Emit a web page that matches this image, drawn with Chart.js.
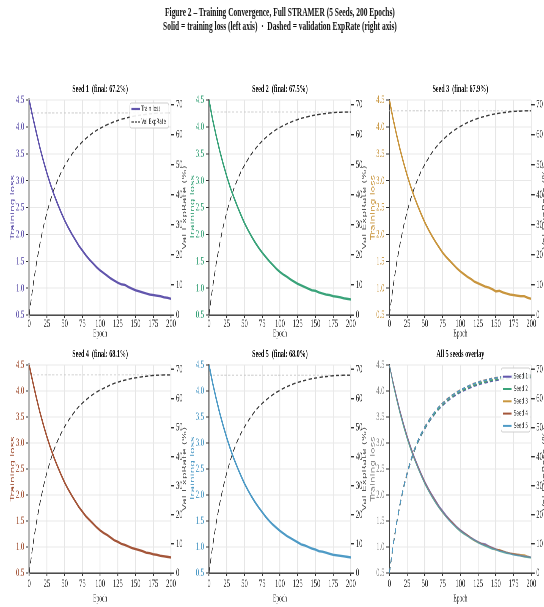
<!DOCTYPE html>
<html>
<head>
<meta charset="utf-8">
<script src="https://cdn.jsdelivr.net/npm/chart.js@4.4.1/dist/chart.umd.min.js"></script>
<style>
html,body{margin:0;padding:0;background:#fff;overflow:hidden;width:544px;height:607px;}
#wrap{position:absolute;left:0;top:0;width:990px;height:607px;transform:scaleX(0.55);transform-origin:0 0;}
.sup{position:absolute;left:0;width:1018px;top:5px;text-align:center;font-family:"Liberation Serif",serif;font-weight:bold;font-size:13.5px;line-height:14px;color:#111;}
canvas{position:absolute;}
</style>
</head>
<body>
<div id="wrap">
  <div class="sup">Figure 2 – Training Convergence, Full STRAMER (5 Seeds, 200 Epochs)<br>Solid = training loss (left axis) &nbsp;·&nbsp; Dashed = validation ExpRate (right axis)</div>
</div>
<script>
// ---------------- DATA ----------------
const epochs = [0,5,10,15,20,25,30,35,40,45,50,55,60,65,70,75,80,85,90,95,100,105,110,115,120,125,130,135,140,145,150,155,160,165,170,175,180,185,190,195,200];
const seedNames = ['Seed 1','Seed 2','Seed 3','Seed 4','Seed 5'];
const finalExpRate = [67.2, 67.5, 67.9, 68.1, 68.0];

const lossSeed1 = [4.50,4.19,3.90,3.62,3.37,3.14,2.93,2.74,2.57,2.41,2.26,2.13,2.01,1.90,1.79,1.70,1.61,1.53,1.46,1.39,1.33,1.28,1.23,1.18,1.14,1.10,1.07,1.06,1.02,0.99,0.96,0.94,0.92,0.90,0.88,0.87,0.86,0.85,0.83,0.82,0.80];
const lossSeed2 = [4.50,4.14,3.84,3.56,3.31,3.08,2.87,2.69,2.52,2.36,2.21,2.08,1.96,1.85,1.75,1.66,1.58,1.50,1.43,1.36,1.30,1.25,1.21,1.16,1.12,1.08,1.05,1.02,0.99,0.96,0.95,0.92,0.90,0.88,0.87,0.85,0.84,0.83,0.81,0.80,0.79];
const lossSeed3 = [4.50,4.16,3.86,3.58,3.33,3.10,2.89,2.70,2.53,2.37,2.22,2.09,1.97,1.86,1.76,1.66,1.58,1.51,1.44,1.37,1.31,1.26,1.21,1.17,1.12,1.09,1.06,1.03,1.01,0.98,0.94,0.95,0.92,0.90,0.88,0.87,0.86,0.85,0.85,0.82,0.80];
const lossSeed4 = [4.50,4.18,3.88,3.60,3.35,3.12,2.91,2.72,2.55,2.39,2.24,2.11,1.99,1.88,1.77,1.68,1.59,1.52,1.45,1.38,1.32,1.27,1.23,1.18,1.13,1.10,1.06,1.04,1.01,0.98,0.96,0.94,0.92,0.89,0.88,0.86,0.85,0.83,0.82,0.81,0.80];
const lossSeed5 = [4.50,4.16,3.86,3.58,3.33,3.10,2.89,2.70,2.53,2.37,2.22,2.09,1.97,1.86,1.76,1.67,1.58,1.50,1.43,1.37,1.31,1.26,1.21,1.17,1.13,1.09,1.05,1.03,1.00,0.97,0.95,0.92,0.91,0.89,0.87,0.85,0.84,0.83,0.82,0.81,0.80];

const valSeed1 = [0,9.0,16.8,23.5,29.3,34.0,38.2,41.8,44.8,47.4,49.6,51.6,53.4,55.0,56.4,57.6,58.7,59.7,60.6,61.4,62.1,62.7,63.3,63.8,64.3,64.7,65.1,65.4,65.7,66.0,66.2,66.4,66.6,66.7,66.9,67.0,67.1,67.1,67.2,67.2,67.2];
const valSeed2 = [0,9.1,16.9,23.6,29.4,34.2,38.4,42.0,45.0,47.6,49.8,51.8,53.6,55.2,56.6,57.9,59.0,60.0,60.9,61.7,62.4,63.0,63.6,64.1,64.6,65.0,65.4,65.7,66.0,66.3,66.5,66.7,66.9,67.0,67.2,67.3,67.4,67.4,67.5,67.5,67.5];
const valSeed3 = [0,9.1,17.0,23.7,29.6,34.4,38.6,42.2,45.3,47.9,50.1,52.1,54.0,55.6,57.0,58.2,59.3,60.3,61.2,62.0,62.7,63.4,64.0,64.5,65.0,65.4,65.8,66.1,66.4,66.7,66.9,67.1,67.3,67.4,67.6,67.7,67.8,67.8,67.9,67.9,67.9];
const valSeed4 = [0,9.1,17.0,23.8,29.7,34.5,38.7,42.4,45.4,48.0,50.3,52.3,54.1,55.7,57.2,58.4,59.5,60.5,61.4,62.2,62.9,63.5,64.1,64.7,65.2,65.6,66.0,66.3,66.6,66.9,67.1,67.3,67.5,67.6,67.8,67.9,68.0,68.0,68.1,68.1,68.1];
const valSeed5 = [0,9.1,17.0,23.8,29.6,34.4,38.7,42.3,45.4,48.0,50.2,52.2,54.0,55.7,57.1,58.3,59.4,60.4,61.3,62.1,62.8,63.5,64.1,64.6,65.1,65.5,65.9,66.2,66.5,66.8,67.0,67.2,67.4,67.5,67.7,67.8,67.9,67.9,68.0,68.0,68.0];

const seriesNames = ['Train loss', 'Val ExpRate'];
const axisTitles = {loss: 'Training loss', val: 'Val ExpRate (%)', x: 'Epoch'};
const overlayTitle = 'All 5 seeds overlay';

// ---------------- STYLE / LAYOUT ----------------
const lossAll = [lossSeed1, lossSeed2, lossSeed3, lossSeed4, lossSeed5];
const valAll = [valSeed1, valSeed2, valSeed3, valSeed4, valSeed5];
const colors = ['#6256ad', '#3aa37a', '#c9963f', '#a4563a', '#4f9bc6'];
const pts = arr => epochs.map((e, i) => ({x: e, y: arr[i]}));

const SERIF = '"Liberation Serif", "Times New Roman", serif';
const SANS = '"DejaVu Sans", sans-serif';

const colX = [0, 327.3, 654.5];
const LEFT_W = 53, PLOT_W = 258, RIGHT_W = 34, TITLE_H = 22;
const rowDims = [
  {top: 78, plotH: 215, xH: 27, tickPad: 0, epochPad: 3},
  {top: 343, plotH: 208, xH: 36, tickPad: 2, epochPad: 5}
];

const extrasPlugin = {
  id: 'extras',
  afterDraw(chart, args, opts) {
    const ctx = chart.ctx, ca = chart.chartArea;
    if (opts.rightTitle) {
      ctx.save();
      ctx.font = '10.5px ' + SANS;
      ctx.fillStyle = opts.rightTitleColor || '#444';
      ctx.translate(ca.right + 25, (ca.top + ca.bottom) / 2);
      ctx.rotate(-Math.PI / 2);
      ctx.textAlign = 'center';
      ctx.textBaseline = 'middle';
      ctx.fillText(opts.rightTitle, 0, 0);
      ctx.restore();
    }
    const L = opts.legend;
    if (L) {
      ctx.save();
      const bx = ca.right + L.boxLeft, by = ca.top + L.boxTop;
      const bw = L.boxRight - L.boxLeft, bh = L.boxBottom - L.boxTop;
      ctx.fillStyle = 'rgba(255,255,255,0.9)';
      ctx.strokeStyle = '#cfcfcf';
      ctx.lineWidth = 1;
      ctx.beginPath();
      ctx.roundRect(bx, by, bw, bh, 3);
      ctx.fill();
      ctx.stroke();
      L.items.forEach((it, i) => {
        const y = ca.top + L.firstRow + i * L.rowGap;
        ctx.strokeStyle = it.color;
        ctx.lineWidth = it.width;
        ctx.setLineDash(it.dash || []);
        ctx.beginPath();
        ctx.moveTo(ca.right + L.lineX0, y);
        ctx.lineTo(ca.right + L.lineX1, y);
        ctx.stroke();
        ctx.setLineDash([]);
        ctx.fillStyle = '#333';
        ctx.font = '7.5px ' + SANS;
        ctx.textBaseline = 'middle';
        ctx.textAlign = 'left';
        ctx.fillText(it.label, ca.right + L.textX, y);
      });
      ctx.restore();
    }
  }
};

function buildPanel(p) {
  const rd = rowDims[p.row];
  const overlay = !!p.overlay;
  const i = p.seed;
  const datasets = [];
  if (!overlay) {
    datasets.push({label: seriesNames[0], data: pts(lossAll[i]), yAxisID: 'y', borderColor: colors[i], borderWidth: 2.4, pointRadius: 0, tension: 0});
    datasets.push({label: seriesNames[1], data: pts(valAll[i]), yAxisID: 'y2', borderColor: '#3a3a3a', borderDash: [6, 4], borderWidth: 1.4, pointRadius: 0, tension: 0});
    datasets.push({label: 'final', data: [{x: epochs[0], y: finalExpRate[i]}, {x: epochs[epochs.length - 1], y: finalExpRate[i]}], yAxisID: 'y2', borderColor: '#c4c4c4', borderDash: [4, 3], borderWidth: 0.8, pointRadius: 0});
  } else {
    for (let k = 0; k < 5; k++) {
      datasets.push({label: seedNames[k], data: pts(lossAll[k]), yAxisID: 'y', borderColor: colors[k] + 'bb', borderWidth: 1.5, pointRadius: 0, order: 10 + (4 - k)});
    }
    for (let k = 0; k < 5; k++) {
      datasets.push({label: seedNames[k] + ' val', data: pts(valAll[k]), yAxisID: 'y2', borderColor: colors[k], borderDash: [6, 4], borderWidth: 1.7, pointRadius: 0, order: (4 - k)});
    }
  }
  const title = overlay ? overlayTitle : `${seedNames[i]}  (final: ${finalExpRate[i].toFixed(1)}%)`;
  const leftColor = overlay ? '#888' : colors[i];
  const spineColor = (!overlay && (i === 0 || i === 3)) ? '#b8b8b8' : '#444';
  const spineW = (!overlay && (i === 0 || i === 3)) ? 4 : 1.8;

  let legend = null;
  if (!overlay && i === 0) {
    legend = {boxLeft: -75, boxRight: -4, boxTop: 3, boxBottom: 28, firstRow: 9, rowGap: 13, lineX0: -72, lineX1: -57, textX: -54,
      items: [
        {label: seriesNames[0], color: colors[0], width: 2.2},
        {label: seriesNames[1], color: '#3a3a3a', width: 1.3, dash: [4, 2]}
      ]};
  } else if (overlay) {
    legend = {boxLeft: -55, boxRight: -2, boxTop: 3, boxBottom: 67, firstRow: 11.7, rowGap: 12.3, lineX0: -51, lineX1: -36, textX: -32,
      items: seedNames.map((n, k) => ({label: n, color: colors[k], width: 2}))};
  }

  const canvas = document.createElement('canvas');
  const W = LEFT_W + PLOT_W + RIGHT_W;
  const H = TITLE_H + rd.plotH + rd.xH;
  canvas.width = W; canvas.height = H;
  canvas.style.left = colX[p.col] + 'px';
  canvas.style.top = rd.top + 'px';
  canvas.style.width = W + 'px';
  canvas.style.height = H + 'px';
  document.getElementById('wrap').appendChild(canvas);

  new Chart(canvas, {
    type: 'line',
    data: {datasets},
    plugins: [extrasPlugin],
    options: {
      responsive: false,
      animation: false,
      devicePixelRatio: 2,
      layout: {padding: 0},
      plugins: {
        legend: {display: false},
        tooltip: {enabled: false},
        title: {display: true, text: title, fullSize: false, color: '#111',
          font: {family: SERIF, size: 11, weight: 'bold', lineHeight: '14px'}, padding: {top: 4, bottom: 4}},
        extras: {rightTitle: axisTitles.val, rightTitleColor: '#555', legend}
      },
      scales: {
        x: {
          type: 'linear', min: 0, max: 200,
          ticks: {stepSize: 25, color: '#333', padding: rd.tickPad, font: {family: SERIF, size: 12, lineHeight: 1}, maxRotation: 0},
          grid: {color: '#e6e6e6', lineWidth: 1.6, tickLength: 3, tickColor: '#333', tickWidth: 1.6},
          border: {color: '#333', width: 1.4},
          title: {display: true, text: axisTitles.x, color: '#333', font: {family: SERIF, size: 10, lineHeight: 1}, padding: {top: 0, bottom: rd.epochPad}},
          afterFit: s => { s.height = rd.xH; }
        },
        y: {
          position: 'left', min: 0.5, max: 4.5,
          ticks: {stepSize: 0.5, color: leftColor, padding: 3, font: {family: SERIF, size: 12}, callback: v => Number(v).toFixed(1)},
          grid: {color: '#e8e8e8', lineWidth: 1, tickLength: 6, tickColor: '#333'},
          border: {color: spineColor, width: spineW},
          title: {display: true, text: axisTitles.loss, color: leftColor, font: {family: SANS, size: 10.5}, padding: {top: 17, bottom: 0}},
          afterFit: s => { s.width = LEFT_W; }
        },
        y2: {
          position: 'right', min: 0, max: 71.5,
          ticks: {stepSize: 10, includeBounds: false, color: '#333', padding: 3, font: {family: SERIF, size: 12}},
          grid: {drawOnChartArea: false, tickLength: 6, tickColor: '#333', lineWidth: 1.4},
          border: {display: false},
          afterFit: s => { s.width = RIGHT_W; }
        }
      }
    }
  });
}

[
  {col: 0, row: 0, seed: 0},
  {col: 1, row: 0, seed: 1},
  {col: 2, row: 0, seed: 2},
  {col: 0, row: 1, seed: 3},
  {col: 1, row: 1, seed: 4},
  {col: 2, row: 1, overlay: true}
].forEach(buildPanel);
</script>
</body>
</html>
